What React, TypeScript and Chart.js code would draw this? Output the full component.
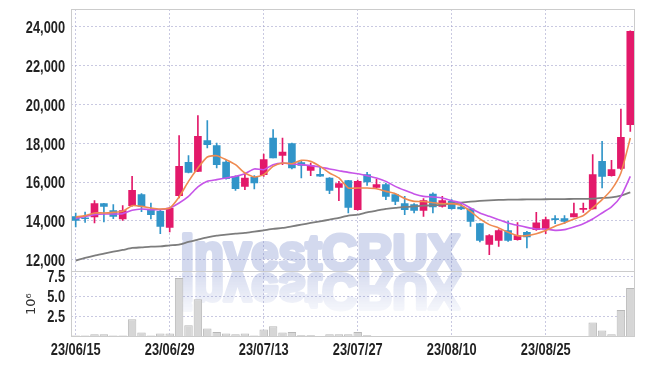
import React, { useEffect, useRef } from 'react';
import { Chart, registerables } from 'chart.js';

Chart.register(...registerables);

const dates = [
  '23/06/15', '23/06/16', '23/06/19', '23/06/20', '23/06/21', '23/06/22', '23/06/23', '23/06/26', '23/06/27', '23/06/28',
  '23/06/29', '23/06/30', '23/07/03', '23/07/04', '23/07/05', '23/07/06', '23/07/07', '23/07/10', '23/07/11', '23/07/12',
  '23/07/13', '23/07/14', '23/07/17', '23/07/18', '23/07/19', '23/07/20', '23/07/21', '23/07/24', '23/07/25', '23/07/26',
  '23/07/27', '23/07/28', '23/07/31', '23/08/01', '23/08/02', '23/08/03', '23/08/04', '23/08/07', '23/08/08', '23/08/09',
  '23/08/10', '23/08/11', '23/08/14', '23/08/16', '23/08/17', '23/08/18', '23/08/21', '23/08/22', '23/08/23', '23/08/24',
  '23/08/25', '23/08/28', '23/08/29', '23/08/30', '23/08/31', '23/09/01', '23/09/04', '23/09/05', '23/09/06', '23/09/07',
];

const openPrices = [
  14212, 14150, 14196, 14882, 14521, 14093, 14779, 15347, 14537, 14485,
  13659, 15295, 17013, 16549, 18133, 17875, 17034, 16291, 15775, 16243,
  16379, 18272, 17375, 17978, 17000, 16600, 16400, 16208, 15723, 16069,
  14573, 16379, 15723, 15862, 15347, 14882, 14831, 14537, 15383, 14743,
  15001, 14712, 14609, 13850, 12782, 12989, 13489, 13025, 13402, 13541,
  13577, 14110, 14108, 14196, 14590, 14609, 17065, 16327, 16704, 18959,
];
const highPrices = [
  14402, 14454, 15037, 14900, 14831, 14780, 16291, 15400, 14918, 14540,
  14680, 18391, 17359, 19423, 19165, 18014, 17120, 16320, 16415, 16327,
  17447, 18700, 18272, 18014, 17065, 16982, 16810, 16230, 16033, 16090,
  16100, 16498, 16157, 15950, 15400, 15259, 14882, 15140, 15435, 15259,
  15089, 14918, 14630, 13870, 13283, 13541, 13970, 13900, 13450, 14433,
  14196, 14263, 14263, 14918, 14918, 17411, 18097, 17117, 19769, 23800,
];
const lowPrices = [
  13680, 13917, 13886, 13938, 14108, 14020, 14750, 14469, 14093, 13334,
  13422, 15176, 16466, 16530, 17756, 16724, 16150, 15568, 15604, 15640,
  16291, 17240, 16895, 16673, 16208, 16327, 16290, 15398, 15037, 14402,
  14550, 15827, 15700, 15089, 14831, 14314, 14402, 14227, 14402, 14700,
  14600, 14573, 13711, 12906, 12251, 12679, 12937, 13000, 12596, 13500,
  13334, 13850, 13850, 14196, 14433, 14600, 15692, 16300, 16650, 18613,
];
const closePrices = [
  14021, 14110, 14882, 14743, 14227, 14521, 15568, 14743, 14314, 13711,
  14660, 16807, 16497, 18355, 17927, 16895, 16172, 15656, 16208, 15950,
  17153, 17240, 17550, 16724, 16860, 16843, 16300, 15568, 15914, 14691,
  16033, 16002, 15862, 15259, 15001, 14573, 14537, 15037, 14712, 15037,
  14625, 14609, 13969, 12988, 13231, 13489, 12989, 13231, 13164, 13887,
  14057, 14057, 13969, 14366, 14640, 16379, 16291, 16637, 18303, 23773,
];
// volume in millions of shares (10^6)
const volumes = [
  0.2, 0.2, 0.33, 0.33, 0.2, 0.2, 2.2, 0.55, 0.2, 0.42,
  0.42, 7.3, 1.46, 4.67, 1.05, 0.62, 0.42, 0.34, 0.42, 0.18,
  0.92, 1.34, 0.55, 0.62, 0.21, 0.21, 0.09, 0.34, 0.34, 0.34,
  0.62, 0.21, 0.1, 0.1, 0.08, 0.08, 0.05, 0.05, 0.05, 0.08,
  0.08, 0.03, 0.03, 0.06, 0.06, 0.06, 0.06, 0.06, 0.06, 0.03,
  0.05, 0.05, 0.03, 0.08, 0.1, 1.8, 0.8, 0.34, 3.34, 6.05,
];
const ma5 = [
  14196, 14263, 14402, 14402, 14433, 14485, 14779, 14743, 14660, 14609,
  14660, 15228, 16033, 16724, 17292, 17359, 17153, 16895, 16466, 16260,
  16379, 16807, 16982, 16946, 17117, 17065, 16807, 16466, 16208, 15692,
  15692, 15692, 15656, 15517, 15400, 15150, 15000, 14990, 14930, 14882,
  14882, 14795, 14485, 14093, 13799, 13628, 13401, 13231, 13231, 13334,
  13500, 13711, 13886, 14093, 14263, 14660, 15089, 15605, 16466, 18272,
];
const ma20 = [
  14108, 14227, 14315, 14351, 14351, 14366, 14537, 14609, 14573, 14573,
  14660, 14918, 15259, 15744, 16033, 16121, 16208, 16291, 16430, 16673,
  16637, 16895, 16982, 16931, 16895, 16843, 16776, 16673, 16585, 16497,
  16430, 16327, 16208, 16033, 15775, 15569, 15383, 15259, 15228, 15176,
  15037, 14918, 14660, 14402, 14227, 14057, 13886, 13763, 13659, 13577,
  13577, 13505, 13541, 13680, 13850, 14093, 14402, 14712, 15259, 16291,
];
const ma60 = [
  11941, 12080, 12199, 12302, 12405, 12493, 12596, 12627, 12663, 12679,
  12731, 12767, 12906, 13025, 13143, 13231, 13283, 13334, 13370, 13437,
  13505, 13577, 13628, 13711, 13799, 13886, 13969, 14057, 14144, 14263,
  14315, 14433, 14521, 14609, 14660, 14712, 14743, 14779, 14795, 14831,
  14882, 14934, 14985, 15022, 15053, 15073, 15089, 15095, 15100, 15105,
  15110, 15115, 15120, 15125, 15130, 15140, 15176, 15207, 15295, 15465,
];
const priceTicks = [12000, 14000, 16000, 18000, 20000, 22000, 24000];
const volumeTicks = [2.5, 5, 7.5];
const LABEL_EVERY = 10;
const WATERMARK = 'investCRUX';

const FONT = "'Liberation Sans', Arial, sans-serif";
const TICK_FONT = { family: FONT, size: 16, weight: 'bold' };
const CONDENSE = 0.8;
const UP = '#e3196a';
const DOWN = '#3195c9';
const GRID = 'rgba(165,165,205,0.6)';
const FRAME = '#cccccc';
const MARK_RGB = 'rgb(110,130,200)';

const drawMarkText = (c: CanvasRenderingContext2D, cx: number, baseline: number, sx: number, sy: number) => {
  c.save();
  c.translate(cx, baseline);
  c.scale(sx, sy);
  c.fillText(WATERMARK, 0, 0);
  c.strokeText(WATERMARK, 0, 0);
  c.restore();
};

const watermarkPlugin = {
  id: 'watermark',
  beforeDatasetsDraw(chart: any) {
    const { ctx, chartArea } = chart;
    const axisY = chart.scales.y.bottom;
    const cx = chart.width / 2 - 2;
    const baseline = axisY - 1;
    const W = chart.width;
    const H = chart.height;

    const prep = (c: CanvasRenderingContext2D) => {
      c.font = "bold 50px 'Liberation Sans', Arial, sans-serif";
      c.textAlign = 'center';
      c.textBaseline = 'alphabetic';
      c.fillStyle = MARK_RGB;
      c.strokeStyle = MARK_RGB;
      c.lineWidth = 4;
      c.lineJoin = 'round';
    };

    const main = document.createElement('canvas');
    main.width = W;
    main.height = H;
    const m = main.getContext('2d') as CanvasRenderingContext2D;
    prep(m);
    const sx = 280 / m.measureText(WATERMARK).width;
    drawMarkText(m, cx, baseline, sx, 1);

    const refl = document.createElement('canvas');
    refl.width = W;
    refl.height = H;
    const r = refl.getContext('2d') as CanvasRenderingContext2D;
    prep(r);
    drawMarkText(r, cx, baseline + 4, sx, -1);
    r.globalCompositeOperation = 'destination-in';
    const g = r.createLinearGradient(0, baseline + 4, 0, baseline + 46);
    g.addColorStop(0, 'rgba(0,0,0,1)');
    g.addColorStop(1, 'rgba(0,0,0,0.15)');
    r.fillStyle = g;
    r.fillRect(0, 0, W, H);

    ctx.save();
    ctx.beginPath();
    ctx.rect(chartArea.left, chartArea.top, chartArea.right - chartArea.left, chartArea.bottom - chartArea.top);
    ctx.clip();
    ctx.setTransform(1, 0, 0, 1, 0, 0);
    ctx.globalAlpha = 0.3;
    ctx.drawImage(main, 0, 0);
    ctx.globalAlpha = 0.26;
    ctx.drawImage(refl, 0, 0);
    ctx.restore();
  },
};

const framePlugin = {
  id: 'frame',
  afterDatasetsDraw(chart: any) {
    const { ctx, chartArea } = chart;
    const y = chart.scales.y;
    ctx.save();
    ctx.strokeStyle = FRAME;
    ctx.lineWidth = 1;
    ctx.strokeRect(
      Math.round(chartArea.left) + 0.5,
      Math.round(chartArea.top) + 0.5,
      Math.round(chartArea.right - chartArea.left) - 1,
      Math.round(chartArea.bottom - chartArea.top) - 1
    );
    ctx.beginPath();
    const sy = Math.round(y.bottom) + 0.5;
    ctx.moveTo(chartArea.left, sy);
    ctx.lineTo(chartArea.right, sy);
    ctx.stroke();
    ctx.restore();
  },
};

// draw tick labels horizontally condensed, to mimic the condensed face of the original
const condensedLabels = (s: any) => {
  if (s.__condensed) return;
  s.__condensed = true;
  const orig = s.drawLabels.bind(s);
  s.drawLabels = (area: any) => {
    const c = s.ctx;
    const protoFill = CanvasRenderingContext2D.prototype.fillText;
    c.fillText = function (text: string, x: number, y: number) {
      c.save();
      c.translate(x, y);
      c.scale(CONDENSE, 1);
      protoFill.call(c, text, 0, 0);
      c.restore();
    };
    try {
      orig(area);
    } finally {
      delete c.fillText;
    }
  };
};

export default function App() {
  const canvasRef = useRef<HTMLCanvasElement | null>(null);

  useEffect(() => {
    if (!canvasRef.current) return;
    const candleColors = closePrices.map((c, i) => (c >= openPrices[i] ? UP : DOWN));
    const wicks = dates.map((_, i) => [lowPrices[i], highPrices[i]]);
    const bodies = dates.map((_, i) => {
      const lo = Math.min(openPrices[i], closePrices[i]);
      const hi = Math.max(openPrices[i], closePrices[i]);
      return [lo, Math.max(hi, lo + 45)];
    });

    const chart = new Chart(canvasRef.current, {
      type: 'bar',
      data: {
        labels: dates,
        datasets: [
          { type: 'line', data: ma5, yAxisID: 'y', borderColor: '#ef8a50', borderWidth: 1.6, pointRadius: 0, tension: 0.2, order: 0 } as any,
          { type: 'line', data: ma20, yAxisID: 'y', borderColor: '#c654e8', borderWidth: 1.6, pointRadius: 0, tension: 0.2, order: 0 } as any,
          { type: 'line', data: ma60, yAxisID: 'y', borderColor: '#7d7d7d', borderWidth: 1.8, pointRadius: 0, tension: 0.2, order: 0 } as any,
          { data: wicks as any, yAxisID: 'y', backgroundColor: candleColors, barThickness: 1, grouped: false, order: 2 } as any,
          { data: bodies as any, yAxisID: 'y', backgroundColor: candleColors, barThickness: 7, grouped: false, order: 1 } as any,
          {
            data: volumes,
            yAxisID: 'vol',
            backgroundColor: '#d6d6d6',
            borderColor: '#b8b8b8',
            borderWidth: 1,
            barPercentage: 0.9,
            categoryPercentage: 1,
            grouped: false,
            order: 3,
          } as any,
        ],
      },
      options: {
        responsive: true,
        maintainAspectRatio: false,
        animation: false,
        layout: { padding: { top: 1, right: 2, left: 0, bottom: 0 } },
        plugins: { legend: { display: false }, tooltip: { enabled: false } },
        scales: {
          x: {
            type: 'category',
            offset: true,
            grid: {
              offset: false,
              drawTicks: false,
              color: (ctx: any) => (ctx.index % LABEL_EVERY === 0 ? GRID : 'rgba(0,0,0,0)'),
            },
            border: { display: false, dash: [2, 2] },
            ticks: {
              autoSkip: false,
              maxRotation: 0,
              padding: 4,
              color: '#222',
              font: TICK_FONT,
              callback: (_v: any, i: number) => (i % LABEL_EVERY === 0 ? dates[i] : ''),
            },
            afterFit: (s: any) => {
              s.height = 21;
              s.paddingLeft = 0;
              s.paddingRight = 0;
              condensedLabels(s);
            },
          },
          vol: {
            type: 'linear',
            position: 'left',
            stack: 'panels',
            stackWeight: 1,
            min: 0,
            max: 8.1,
            afterBuildTicks: (s: any) => {
              s.ticks = volumeTicks.map((v) => ({ value: v }));
            },
            grid: { color: GRID, drawTicks: false },
            border: { display: false, dash: [2, 2] },
            title: {
              display: true,
              text: '10\u2076',
              color: '#333',
              font: { family: "'DejaVu Sans', sans-serif", size: 13 },
              padding: { top: 16, bottom: 0 },
            },
            ticks: {
              autoSkip: false,
              padding: 6,
              labelOffset: 1,
              color: '#222',
              font: TICK_FONT,
              callback: (v: any) => Number(v).toFixed(1),
            },
            afterFit: (s: any) => {
              s.width = 63;
              s.paddingTop = 0;
              s.paddingBottom = 0;
              condensedLabels(s);
            },
          },
          y: {
            type: 'linear',
            position: 'left',
            stack: 'panels',
            stackWeight: 4,
            min: 11386,
            max: 24929,
            afterBuildTicks: (s: any) => {
              s.ticks = priceTicks.map((v) => ({ value: v }));
            },
            grid: { color: GRID, drawTicks: false },
            border: { display: false, dash: [2, 2] },
            ticks: {
              autoSkip: false,
              padding: 6,
              labelOffset: 2,
              color: '#222',
              font: TICK_FONT,
              callback: (v: any) => Number(v).toLocaleString('en-US'),
            },
            afterFit: (s: any) => {
              s.width = 63;
              s.paddingTop = 0;
              s.paddingBottom = 0;
              condensedLabels(s);
            },
          },
        },
      } as any,
      plugins: [watermarkPlugin, framePlugin],
    });
    return () => chart.destroy();
  }, []);

  return (
    <div style={{ width: 629, height: 350, position: 'relative' }}>
      <canvas ref={canvasRef} />
    </div>
  );
}
